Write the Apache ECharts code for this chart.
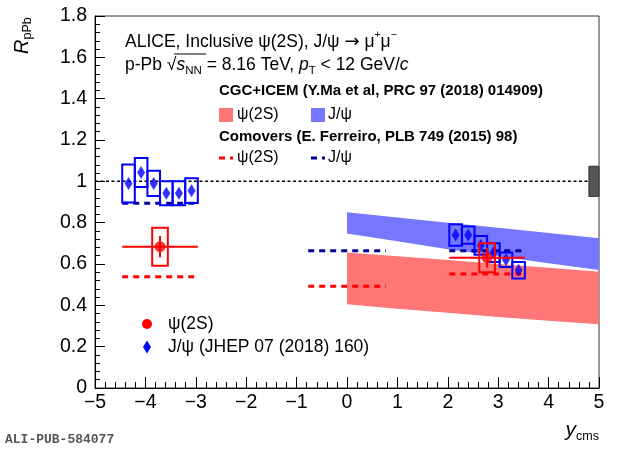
<!DOCTYPE html>
<html>
<head>
<meta charset="utf-8">
<script src="https://cdn.jsdelivr.net/npm/echarts@6/dist/echarts.min.js"></script>
<style>
  html, body { margin: 0; padding: 0; background: #fff; }
  #chart { width: 620px; height: 449px; }
</style>
</head>
<body>
<div id="chart"></div>
<script>
// axis ticks
const xTicks = [-5, -4, -3, -2, -1, 0, 1, 2, 3, 4, 5]
const yTicks = [0, 0.2, 0.4, 0.6, 0.8, 1, 1.2, 1.4, 1.6, 1.8]

// J/psi, backward rapidity (JHEP 07 (2018) 160)
const jpsiBwdY = [-4.335, -4.085, -3.835, -3.585, -3.335, -3.085]
const jpsiBwdR = [0.990, 1.043, 0.990, 0.942, 0.942, 0.955]
const jpsiBwdSyst = [0.092, 0.070, 0.061, 0.058, 0.058, 0.060]

// J/psi, forward rapidity
const jpsiFwdY = [2.155, 2.405, 2.655, 2.905, 3.155, 3.405]
const jpsiFwdR = [0.740, 0.740, 0.690, 0.655, 0.621, 0.570]
const jpsiFwdSyst = [0.052, 0.042, 0.045, 0.045, 0.035, 0.040]

// psi(2S): [y, R, yLow, yHigh, stat, syst]
const psiY = [-3.71, 2.78]
const psiR = [0.684, 0.630]
const psiYLow = [-4.46, 2.03]
const psiYHigh = [-2.96, 3.53]
const psiStat = [0.052, 0.048]
const psiSyst = [0.092, 0.070]

// CGC+ICEM bands
const cgcX = [0, 1, 2, 3, 4, 5]
const cgcJpsiHi = [0.850, 0.825, 0.800, 0.775, 0.750, 0.724]
const cgcJpsiLo = [0.748, 0.710, 0.671, 0.638, 0.604, 0.571]
const cgcPsiHi = [0.656, 0.637, 0.619, 0.600, 0.582, 0.563]
const cgcPsiLo = [0.405, 0.383, 0.364, 0.344, 0.326, 0.308]

// Comovers, one value per rapidity range
const comovRanges = [[-4.46, -2.96], [-0.77, 0.77], [2.03, 3.53]]
const comovJpsi = [0.894, 0.664, 0.664]
const comovPsi = [0.538, 0.492, 0.552]

// global uncertainty around unity
const globalUnc = 0.073

const font = 'Liberation Sans'
const RED = '#ff0000'
const BLUE = '#0000ff'
const NAVY = '#000099'

function boxSeries(xs, ys, hs, hw, color, z) {
  return {
    type: 'custom', z: z, silent: true,
    data: xs.map((x, i) => [x, ys[i], hs[i]]),
    encode: { x: 0, y: 1 },
    renderItem: function (params, api) {
      const x = api.value(0), y = api.value(1), hh = api.value(2)
      const a = api.coord([x - hw, y + hh])
      const b = api.coord([x + hw, y - hh])
      return {
        type: 'rect',
        shape: { x: a[0], y: a[1], width: b[0] - a[0], height: b[1] - a[1] },
        style: { fill: 'none', stroke: color, lineWidth: 2 }
      }
    }
  }
}

function bandSeries(lo, hi, color) {
  return {
    type: 'custom', z: 1, silent: true,
    data: [[cgcX[0], lo[0]]],
    encode: { x: 0, y: 1 },
    renderItem: function (params, api) {
      const pts = []
      cgcX.forEach((x, i) => pts.push(api.coord([x, hi[i]])))
      for (let i = cgcX.length - 1; i >= 0; i--) pts.push(api.coord([cgcX[i], lo[i]]))
      return { type: 'polygon', shape: { points: pts }, style: { fill: color } }
    }
  }
}

function comovSeries(vals, color) {
  return comovRanges.map((r, i) => ({
    type: 'line', z: 2, silent: true, symbol: 'none',
    data: [[r[0], vals[i]], [r[1], vals[i]]],
    lineStyle: { color: color, width: 3, type: [6, 5] }
  }))
}

const series = [
  bandSeries(cgcPsiLo, cgcPsiHi, '#ff7676'),
  bandSeries(cgcJpsiLo, cgcJpsiHi, '#7676ff'),
  {
    type: 'line', z: 2, silent: true, symbol: 'none',
    data: [[xTicks[0], 1], [xTicks[xTicks.length - 1], 1]],
    lineStyle: { color: '#000', width: 1.5, type: [3, 2.5] }
  },
  ...comovSeries(comovJpsi, NAVY),
  ...comovSeries(comovPsi, RED),
  {
    type: 'custom', z: 3, silent: true,
    data: [[5, 1, globalUnc]],
    encode: { x: 0, y: 1 },
    renderItem: function (params, api) {
      const a = api.coord([4.8, 1 + api.value(2)])
      const b = api.coord([5, 1 - api.value(2)])
      return {
        type: 'rect',
        shape: { x: a[0], y: a[1], width: b[0] - a[0], height: b[1] - a[1] },
        style: { fill: '#555555', stroke: '#333', lineWidth: 1 }
      }
    }
  },
  boxSeries(jpsiBwdY, jpsiBwdR, jpsiBwdSyst, 0.125, BLUE, 4),
  boxSeries(jpsiFwdY, jpsiFwdR, jpsiFwdSyst, 0.125, BLUE, 4),
  {
    type: 'scatter', z: 5, silent: true, symbol: 'diamond', symbolSize: [8, 13],
    itemStyle: { color: BLUE },
    data: jpsiBwdY.map((x, i) => [x, jpsiBwdR[i]]).concat(jpsiFwdY.map((x, i) => [x, jpsiFwdR[i]]))
  },
  boxSeries(psiY, psiR, psiSyst, 0.155, RED, 6),
  {
    type: 'custom', z: 6, silent: true,
    data: psiY.map((x, i) => [x, psiR[i], psiYLow[i], psiYHigh[i], psiStat[i]]),
    encode: { x: 0, y: 1 },
    renderItem: function (params, api) {
      const x = api.value(0), y = api.value(1)
      const h0 = api.coord([api.value(2), y]), h1 = api.coord([api.value(3), y])
      const v0 = api.coord([x, y - api.value(4)]), v1 = api.coord([x, y + api.value(4)])
      const st = { stroke: RED, lineWidth: 2 }
      return {
        type: 'group',
        children: [
          { type: 'line', shape: { x1: h0[0], y1: h0[1], x2: h1[0], y2: h1[1] }, style: st },
          { type: 'line', shape: { x1: v0[0], y1: v0[1], x2: v1[0], y2: v1[1] }, style: st }
        ]
      }
    }
  },
  {
    type: 'scatter', z: 7, silent: true, symbol: 'circle', symbolSize: 11,
    itemStyle: { color: RED },
    data: psiY.map((x, i) => [x, psiR[i]])
  }
]

const txt = (x, y, text, extra, rot) => ({
  type: 'text', x: x, y: y, silent: true, rotation: rot || 0,
  style: Object.assign({ text: text, font: '16px ' + font, fill: '#000', textVerticalAlign: 'middle' }, extra || {})
})

const graphic = [
  txt(125, 42, 'ALICE, Inclusive ψ(2S), J/ψ {ar|→} μ{sup|+}μ{sup|−}', {
    font: '17.5px ' + font, lineHeight: 24,
    rich: {
      ar: { fontSize: 18, fontFamily: 'DejaVu Sans' },
      sup: { fontSize: 10.5, verticalAlign: 'top', lineHeight: 24, fontFamily: font }
    }
  }),
  txt(125, 65, 'p-Pb √{it|s}{sub|NN} = 8.16 TeV, {it|p}{sub|T} < 12 GeV/{it|c}', {
    font: '17.5px ' + font, lineHeight: 24,
    rich: {
      it: { fontStyle: 'italic', fontSize: 17.5, fontFamily: font },
      sub: { fontSize: 11.5, verticalAlign: 'bottom', lineHeight: 24, fontFamily: font }
    }
  }),
  // bar over s_NN in the square root
  { type: 'line', silent: true, shape: { x1: 174, y1: 54, x2: 206, y2: 54 }, style: { stroke: '#000', lineWidth: 1 } },
  txt(219, 91, 'CGC+ICEM (Y.Ma et al, PRC 97 (2018) 014909)', { font: 'bold 15px ' + font }),
  { type: 'rect', silent: true, shape: { x: 219, y: 108, width: 14, height: 14 }, style: { fill: '#ff7676' } },
  txt(237, 115, 'ψ(2S)'),
  { type: 'rect', silent: true, shape: { x: 311, y: 108, width: 14, height: 14 }, style: { fill: '#7676ff' } },
  txt(328, 115, 'J/ψ'),
  txt(219, 137, 'Comovers (E. Ferreiro, PLB 749 (2015) 98)', { font: 'bold 15px ' + font }),
  { type: 'line', silent: true, shape: { x1: 219, y1: 158, x2: 233, y2: 158 }, style: { stroke: RED, lineWidth: 3, lineDash: [6, 5] } },
  txt(237, 158, 'ψ(2S)'),
  { type: 'line', silent: true, shape: { x1: 311, y1: 158, x2: 325, y2: 158 }, style: { stroke: NAVY, lineWidth: 3, lineDash: [6, 5] } },
  txt(328, 158, 'J/ψ'),
  { type: 'circle', silent: true, shape: { cx: 147, cy: 324, r: 5 }, style: { fill: RED } },
  txt(168, 324, 'ψ(2S)', { font: '17.5px ' + font }),
  { type: 'polygon', silent: true, shape: { points: [[147, 340.5], [151, 347], [147, 353.5], [143, 347]] }, style: { fill: BLUE } },
  txt(168, 347, 'J/ψ (JHEP 07 (2018) 160)', { font: '17.5px ' + font }),
  txt(22, 54, '{it|R}{sub|pPb}', {
    font: '20px ' + font, lineHeight: 24,
    rich: {
      it: { fontStyle: 'italic', fontSize: 20, fontFamily: font },
      sub: { fontSize: 12.5, verticalAlign: 'bottom', lineHeight: 24, fontFamily: font }
    }
  }, Math.PI / 2),
  txt(599, 430, '{it|y}{sub|cms}', {
    textAlign: 'right', font: '20px ' + font, lineHeight: 26,
    rich: {
      it: { fontStyle: 'italic', fontSize: 21, fontFamily: font },
      sub: { fontSize: 12.5, verticalAlign: 'bottom', lineHeight: 26, fontFamily: font }
    }
  }),
  txt(5, 440, 'ALI-PUB-584077', { font: 'bold 13px "Liberation Mono"', fill: '#555' })
]

const chart = echarts.init(document.getElementById('chart'), null, { renderer: 'canvas' })
chart.setOption({
  animation: false,
  backgroundColor: '#fff',
  grid: { left: 95, right: 21, top: 16, bottom: 61, show: true, borderColor: '#333', borderWidth: 1 },
  xAxis: {
    type: 'value', min: xTicks[0], max: xTicks[xTicks.length - 1], interval: 1,
    axisLine: { onZero: false, lineStyle: { color: '#000', width: 1 } },
    axisTick: { inside: true, length: 11, lineStyle: { color: '#000' } },
    minorTick: { show: true, splitNumber: 5, length: 6, lineStyle: { color: '#000' } },
    splitLine: { show: false },
    axisLabel: {
      color: '#000', fontSize: 19.5, fontFamily: font, margin: 5,
      formatter: v => xTicks.includes(v) ? String(v).replace('-', '−') : ''
    }
  },
  yAxis: {
    type: 'value', min: yTicks[0], max: yTicks[yTicks.length - 1], interval: 0.2,
    axisLine: { onZero: false, lineStyle: { color: '#000', width: 1 } },
    axisTick: { inside: true, length: 10, lineStyle: { color: '#000' } },
    minorTick: { show: true, splitNumber: 5, length: 5, lineStyle: { color: '#000' } },
    splitLine: { show: false },
    axisLabel: {
      color: '#000', fontSize: 19.5, fontFamily: font, margin: 8,
      formatter: v => String(Math.round(v * 10) / 10)
    }
  },
  series: series,
  graphic: graphic
})
</script>
</body>
</html>
